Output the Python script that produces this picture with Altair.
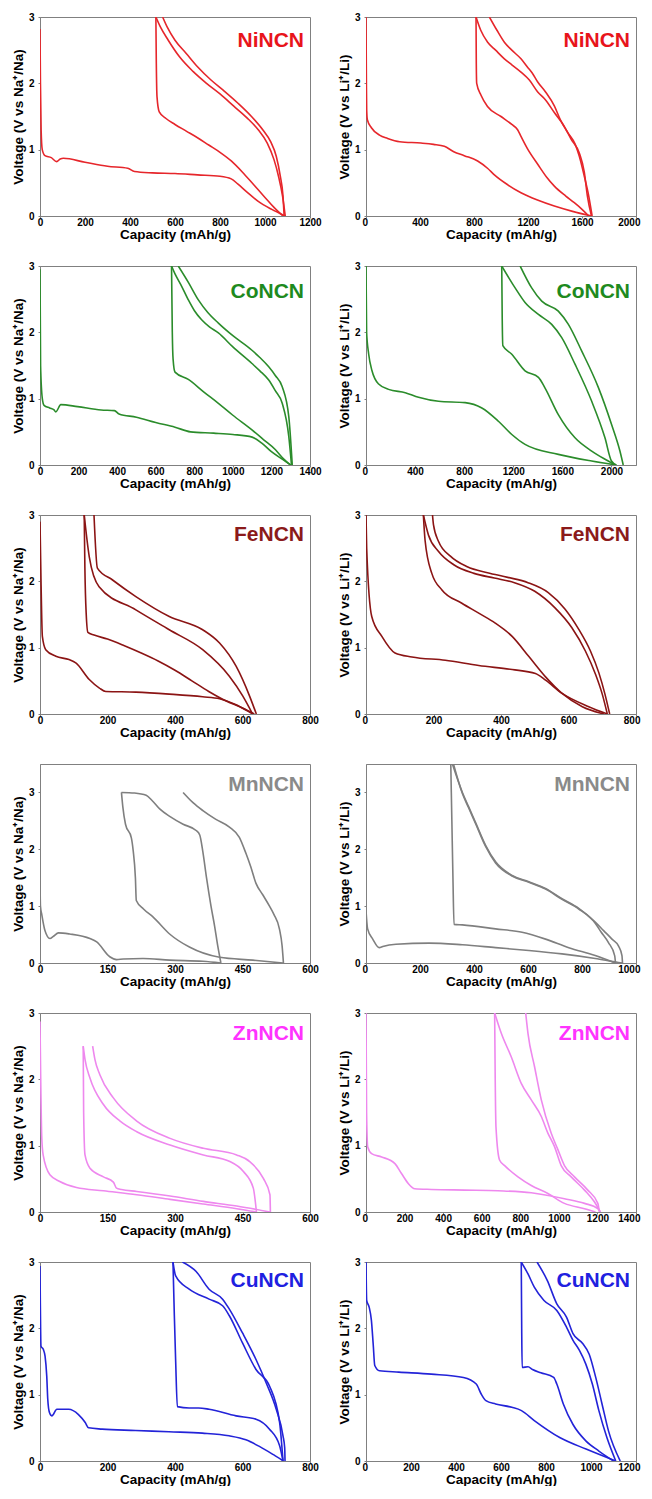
import altair as alt
import pandas as pd

FONT = "Liberation Sans"
W, H = 270, 199

# ---------------- NiNCN ----------------
NI_NA_D1 = [(0,2.82),(2,2.0),(5,1.3),(10,1.0),(22,0.91),(50,0.88),(74,0.82),(90,0.86),(104,0.87),(200,0.81),(300,0.75),(390,0.72),(420,0.67),(500,0.65),(600,0.64),(700,0.62),(800,0.6),(850,0.56),(880,0.48),(920,0.36),(970,0.22),(1030,0.1),(1090,0.0)]
NI_NA_C1 = [(1090,0.0),(1078,0.3),(1060,0.6),(1040,0.85),(1010,1.1),(970,1.3),(920,1.48),(860,1.66),(800,1.84),(740,2.0),(680,2.18),(620,2.4),(570,2.65),(535,2.85),(515,3.0)]
NI_NA_D2 = [(515,3.0),(517,2.3),(520,1.8),(530,1.57),(560,1.47),(600,1.38),(650,1.28),(700,1.18),(750,1.07),(800,0.96),(850,0.83),(900,0.66),(950,0.47),(1000,0.28),(1040,0.13),(1080,0.0)]
NI_NA_C2 = [(1085,0.0),(1080,0.3),(1068,0.6),(1050,0.9),(1025,1.12),(990,1.3),(940,1.5),(880,1.7),(820,1.88),(760,2.05),(700,2.25),(650,2.45),(600,2.65),(565,2.85),(545,3.0)]

NI_LI_D1 = [(0,3.0),(3,2.0),(5,1.6),(10,1.45),(40,1.33),(100,1.22),(160,1.17),(250,1.12),(407,1.1),(500,1.08),(580,1.05),(650,0.97),(728,0.91),(827,0.83),(900,0.72),(951,0.62),(1050,0.47),(1148,0.35),(1270,0.24),(1395,0.15),(1530,0.07),(1670,0.0)]
NI_LI_C1 = [(1670,0.0),(1640,0.3),(1617,0.66),(1580,0.95),(1519,1.16),(1460,1.38),(1395,1.56),(1330,1.75),(1272,1.87),(1210,2.05),(1148,2.17),(1080,2.28),(1025,2.37),(960,2.5),(901,2.62),(850,2.8),(815,3.0)]
NI_LI_D2 = [(815,3.0),(817,2.3),(820,2.0),(852,1.82),(900,1.65),(1000,1.5),(1080,1.38),(1123,1.3),(1148,1.2),(1200,1.0),(1272,0.78),(1340,0.58),(1395,0.45),(1480,0.3),(1543,0.2),(1600,0.1),(1650,0.0)]
NI_LI_C2 = [(1675,0.0),(1650,0.3),(1617,0.6),(1580,0.9),(1550,1.08),(1494,1.26),(1440,1.45),(1395,1.66),(1330,1.87),(1272,2.02),(1230,2.16),(1198,2.24),(1148,2.37),(1080,2.5),(1025,2.62),(970,2.8),(914,3.0)]

# ---------------- CoNCN ----------------
CO_NA_D1 = [(0,2.95),(3,1.5),(12,1.0),(21,0.9),(50,0.86),(73,0.83),(82,0.8),(108,0.91),(195,0.88),(317,0.83),(386,0.82),(410,0.77),(500,0.72),(600,0.64),(700,0.57),(780,0.5),(900,0.48),(1000,0.46),(1100,0.42),(1150,0.33),(1200,0.2),(1260,0.08),(1300,0.0)]
CO_NA_C1 = [(1304,0.0),(1290,0.43),(1256,0.93),(1220,1.12),(1186,1.28),(1140,1.42),(1099,1.53),(1000,1.78),(925,1.99),(880,2.08),(838,2.19),(800,2.33),(769,2.49),(730,2.72),(700,2.88),(682,3.0)]
CO_NA_D2 = [(682,3.0),(686,2.0),(690,1.6),(700,1.4),(769,1.29),(850,1.1),(925,0.93),(1000,0.75),(1099,0.53),(1160,0.38),(1221,0.23),(1260,0.1),(1299,0.0)]
CO_NA_C2 = [(1308,0.0),(1290,0.73),(1256,1.18),(1220,1.35),(1186,1.48),(1140,1.62),(1099,1.73),(1000,1.95),(925,2.14),(870,2.3),(821,2.49),(770,2.75),(717,3.0)]

CO_LI_D1 = [(0,3.0),(5,2.0),(22,1.67),(49,1.42),(103,1.22),(184,1.14),(320,1.09),(428,1.02),(591,0.96),(808,0.94),(944,0.86),(1079,0.66),(1188,0.46),(1296,0.31),(1567,0.16),(1839,0.06),(2040,0.0)]
CO_LI_C1 = [(2040,0.0),(2000,0.06),(1947,0.41),(1839,0.96),(1703,1.52),(1595,1.92),(1513,2.12),(1405,2.27),(1296,2.45),(1215,2.67),(1106,3.0)]
CO_LI_D2 = [(1106,3.0),(1110,2.2),(1115,1.8),(1188,1.67),(1296,1.42),(1405,1.32),(1459,1.16),(1567,0.76),(1703,0.41),(1839,0.21),(1974,0.06),(2030,0.0)]
CO_LI_C2 = [(2096,0.0),(2069,0.21),(2001,0.61),(1893,1.17),(1757,1.72),(1649,2.12),(1567,2.32),(1432,2.47),(1350,2.67),(1256,3.0)]

# ---------------- FeNCN ----------------
FE_NA_D1 = [(0,2.9),(3,2.0),(7,1.17),(17,0.97),(47,0.87),(86,0.82),(106,0.77),(146,0.52),(176,0.39),(195,0.34),(284,0.33),(383,0.3),(482,0.26),(532,0.23),(581,0.14),(610,0.06),(630,0.0)]
FE_NA_C1 = [(630,0.0),(601,0.27),(561,0.57),(482,0.97),(383,1.27),(284,1.57),(175,1.92),(146,2.37),(131,3.0)]
FE_NA_D2 = [(131,3.0),(133,2.2),(137,1.5),(142,1.23),(160,1.19),(200,1.13),(250,1.03),(300,0.92),(350,0.8),(400,0.66),(450,0.5),(500,0.34),(550,0.2),(600,0.09),(635,0.0)]
FE_NA_C2 = [(641,0.0),(621,0.27),(581,0.72),(532,1.07),(482,1.27),(383,1.47),(284,1.77),(215,2.02),(170,2.2),(160,3.0)]

FE_LI_D1 = [(0,3.0),(2,2.5),(17,1.47),(47,1.17),(86,0.92),(136,0.86),(235,0.81),(334,0.73),(433,0.67),(502,0.61),(532,0.51),(581,0.31),(660,0.11),(715,0.0)]
FE_LI_C1 = [(715,0.0),(700,0.3),(680,0.6),(650,0.95),(610,1.3),(560,1.6),(500,1.85),(440,1.98),(380,2.05),(320,2.12),(260,2.25),(215,2.45),(185,2.7),(170,3.0)]
FE_LI_D2 = [(170,3.0),(175,2.62),(195,2.12),(225,1.87),(284,1.67),(334,1.52),(383,1.37),(433,1.17),(482,0.87),(532,0.56),(581,0.31),(641,0.11),(705,0.0)]
FE_LI_C2 = [(722,0.0),(708,0.3),(690,0.62),(665,0.95),(630,1.28),(590,1.58),(540,1.83),(480,1.98),(420,2.06),(360,2.13),(300,2.22),(250,2.38),(215,2.6),(200,2.85),(197,3.0)]

# ---------------- MnNCN ----------------
MN_NA_D1 = [(0,1.45),(1,1.0),(4,0.85),(11,0.57),(22,0.43),(30,0.47),(41,0.53),(66,0.51),(111,0.43),(126,0.37),(155,0.11),(170,0.06),(185,0.07),(229,0.08),(288,0.05),(362,0.03),(402,0.0)]
MN_NA_C1 = [(402,0.0),(395,0.3),(388,0.65),(380,1.0),(370,1.5),(362,1.95),(355,2.25),(347,2.33),(318,2.44),(290,2.57),(266,2.71),(250,2.85),(236,2.95),(210,2.99),(181,3.0)]
MN_NA_D2 = [(181,3.0),(184,2.75),(190,2.44),(203,2.2),(207,1.98),(212,1.5),(214,1.1),(230,0.95),(251,0.81),(288,0.51),(332,0.28),(399,0.1),(473,0.05),(540,0.0)]
MN_NA_C2 = [(541,0.0),(538,0.3),(532,0.6),(520,0.85),(510,1.0),(495,1.2),(480,1.4),(468,1.7),(458,1.92),(443,2.21),(421,2.39),(390,2.53),(362,2.68),(340,2.82),(318,3.0)]

MN_LI_D1 = [(0,0.92),(6,0.6),(25,0.42),(49,0.27),(62,0.29),(111,0.33),(234,0.35),(357,0.32),(480,0.27),(603,0.22),(726,0.16),(849,0.08),(935,0.01),(950,0.0)]
MN_LI_C1 = [(950,0.0),(948,0.13),(935,0.3),(911,0.42),(880,0.57),(849,0.72),(788,0.96),(726,1.13),(665,1.31),(603,1.43),(541,1.54),(480,1.78),(443,2.07),(406,2.47),(380,2.75),(357,3.0),(320,3.5)]
MN_LI_D2 = [(314,3.5),(318,2.5),(322,1.5),(326,0.68),(357,0.67),(480,0.6),(578,0.54),(665,0.42),(751,0.27),(849,0.13),(923,0.0)]
MN_LI_C2 = [(924,0.0),(921,0.13),(898,0.36),(870,0.55),(849,0.7),(788,0.95),(726,1.12),(665,1.3),(603,1.42),(541,1.53),(480,1.76),(443,2.05),(406,2.45),(380,2.73),(357,2.98),(324,3.5)]

# ---------------- ZnNCN ----------------
ZN_NA_D1 = [(0,2.87),(4,1.11),(7,0.86),(22,0.56),(44,0.46),(81,0.37),(141,0.32),(215,0.26),(289,0.19),(363,0.12),(437,0.05),(481,0.0)]
ZN_NA_C1 = [(481,0.0),(474,0.36),(452,0.61),(422,0.76),(363,0.86),(289,1.01),(215,1.21),(178,1.37),(141,1.62),(111,2.02),(100,2.3),(96,2.5)]
ZN_NA_D2 = [(96,2.5),(97,1.5),(100,0.86),(111,0.66),(141,0.53),(163,0.45),(170,0.36),(181,0.34),(215,0.31),(289,0.24),(363,0.16),(437,0.09),(511,0.0)]
ZN_NA_C2 = [(512,0.0),(511,0.26),(496,0.51),(466,0.76),(437,0.86),(363,0.96),(289,1.11),(215,1.37),(163,1.72),(133,2.07),(122,2.3),(117,2.5)]

ZN_LI_D1 = [(0,3.0),(3,1.5),(9,0.98),(29,0.88),(81,0.83),(150,0.73),(184,0.58),(219,0.43),(253,0.35),(340,0.34),(512,0.33),(684,0.32),(857,0.29),(1029,0.2),(1133,0.13),(1202,0.05),(1215,0.0)]
ZN_LI_C1 = [(1215,0.0),(1185,0.15),(1133,0.33),(1064,0.53),(1012,0.7),(977,0.99),(943,1.19),(909,1.44),(857,1.69),(805,1.94),(753,2.34),(702,2.69),(667,3.0)]
ZN_LI_D2 = [(667,3.0),(670,2.0),(674,1.28),(693,0.78),(719,0.7),(788,0.53),(857,0.4),(943,0.28),(1029,0.13),(1133,0.05),(1190,0.0)]
ZN_LI_C2 = [(1210,0.0),(1202,0.13),(1150,0.33),(1081,0.53),(1029,0.7),(995,0.94),(960,1.19),(909,1.69),(874,2.19),(840,2.69),(828,3.0)]

# ---------------- CuNCN ----------------
CU_NA_D1 = [(0,2.94),(3,1.73),(10,1.68),(15,1.58),(20,1.28),(23,0.93),(28,0.73),(35,0.68),(50,0.78),(85,0.78),(114,0.7),(134,0.58),(144,0.5),(184,0.48),(283,0.46),(382,0.44),(481,0.42),(560,0.38),(610,0.32),(650,0.22),(690,0.1),(715,0.02),(720,0.0)]
CU_NA_C1 = [(720,0.0),(710,0.58),(680,1.13),(640,1.38),(600,1.78),(561,2.19),(541,2.34),(501,2.44),(442,2.59),(402,2.79),(394,3.0)]
CU_NA_D2 = [(394,3.0),(398,2.2),(402,1.5),(407,0.82),(442,0.8),(470,0.8),(501,0.78),(581,0.68),(640,0.63),(680,0.48),(710,0.23),(720,0.0)]
CU_NA_C2 = [(726,0.0),(725,0.2),(720,0.38),(700,0.78),(670,1.18),(640,1.53),(600,1.93),(561,2.29),(541,2.44),(501,2.59),(462,2.86),(422,3.0)]

CU_LI_D1 = [(0,3.0),(3,2.42),(14,2.32),(24,2.12),(32,1.76),(39,1.44),(60,1.36),(146,1.34),(290,1.31),(433,1.26),(490,1.16),(512,1.01),(533,0.91),(576,0.86),(648,0.81),(691,0.76),(748,0.61),(863,0.35),(978,0.18),(1110,0.0)]
CU_LI_C1 = [(1110,0.0),(1071,0.35),(1035,0.76),(1006,1.16),(977,1.46),(948,1.67),(920,1.82),(891,2.02),(848,2.27),(791,2.42),(748,2.62),(720,2.82),(690,3.0)]
CU_LI_D2 = [(690,3.0),(692,2.0),(694,1.41),(720,1.42),(740,1.38),(777,1.33),(834,1.26),(848,1.16),(877,0.86),(920,0.55),(978,0.3),(1035,0.15),(1100,0.0)]
CU_LI_C2 = [(1130,0.0),(1078,0.45),(1049,0.86),(1021,1.26),(992,1.61),(963,1.77),(920,1.92),(891,2.17),(848,2.37),(806,2.72),(760,3.0)]

PANELS = [
    # label, line colour, text colour, Na segs, Na xmax, Na step, Li segs, Li xmax, Li step, Li label max, ymax, text y
    ("NiNCN", "#e6262b", "#e8141b", [NI_NA_D1, NI_NA_C1, NI_NA_D2, NI_NA_C2], 1200, 200,
     [NI_LI_D1, NI_LI_C1, NI_LI_D2, NI_LI_C2], 2000, 400, 2000, 3.0, 30),
    ("CoNCN", "#2b8c2b", "#1e8a1e", [CO_NA_D1, CO_NA_C1, CO_NA_D2, CO_NA_C2], 1400, 200,
     [CO_LI_D1, CO_LI_C1, CO_LI_D2, CO_LI_C2], 2200, 400, 2000, 3.0, 32),
    ("FeNCN", "#8b1414", "#8b1a1a", [FE_NA_D1, FE_NA_C1, FE_NA_D2, FE_NA_C2], 800, 200,
     [FE_LI_D1, FE_LI_C1, FE_LI_D2, FE_LI_C2], 800, 200, 800, 3.0, 26),
    ("MnNCN", "#7f7f7f", "#8a8a8a", [MN_NA_D1, MN_NA_C1, MN_NA_D2, MN_NA_C2], 600, 150,
     [MN_LI_D1, MN_LI_C1, MN_LI_D2, MN_LI_C2], 1000, 200, 1000, 3.5, 27),
    ("ZnNCN", "#ee88ee", "#ff33ff", [ZN_NA_D1, ZN_NA_C1, ZN_NA_D2, ZN_NA_C2], 600, 150,
     [ZN_LI_D1, ZN_LI_C1, ZN_LI_D2, ZN_LI_C2], 1400, 200, 1400, 3.0, 27),
    ("CuNCN", "#2323d8", "#2020e0", [CU_NA_D1, CU_NA_C1, CU_NA_D2, CU_NA_C2], 800, 200,
     [CU_LI_D1, CU_LI_C1, CU_LI_D2, CU_LI_C2], 1200, 200, 1200, 3.0, 25),
]


def make_df(segs):
    rows = []
    for si, seg in enumerate(segs):
        for pi, (c, v) in enumerate(seg):
            rows.append({"cap": c, "volt": v, "seg": si, "idx": pi})
    return pd.DataFrame(rows)


def panel(segs, color, tcolor, label, xmax, xstep, xlabmax, ymax, ion, ty, flush):
    df = make_df(segs)
    xaxis_kw = dict(values=list(range(0, xlabmax + 1, xstep)),
                    title="Capacity (mAh/g)", format="d")
    if flush:
        xaxis_kw.update(labelFlush=True, labelFlushOffset=4)
    x = alt.X("cap:Q",
              scale=alt.Scale(domain=[0, xmax], nice=False, zero=True),
              axis=alt.Axis(**xaxis_kw))
    y = alt.Y("volt:Q",
              scale=alt.Scale(domain=[0, ymax], nice=False, zero=True),
              axis=alt.Axis(values=[0, 1, 2, 3], format="d",
                            title=f"Voltage (V vs {ion}\u207a/{ion})"))
    lines = alt.Chart(df).mark_line(color=color, strokeWidth=1.6, clip=True,
                                    interpolate="monotone").encode(
        x=x, y=y, detail="seg:N", order="idx:Q")
    txt = alt.Chart(pd.DataFrame({"t": [label]})).mark_text(
        font=FONT, fontWeight="bold", fontSize=21, color=tcolor,
        align="right", baseline="alphabetic").encode(
        text="t:N", x=alt.value(W - 6), y=alt.value(ty))
    return alt.layer(lines, txt).properties(width=W, height=H)


panels = []
for (label, lc, tc, na_segs, na_xmax, na_step, li_segs, li_xmax, li_step,
     li_labmax, ymax, ty) in PANELS:
    panels.append(panel(na_segs, lc, tc, label, na_xmax, na_step, na_xmax, ymax, "Na", ty, False))
    panels.append(panel(li_segs, lc, tc, label, li_xmax, li_step, li_labmax, ymax, "Li", ty, True))

chart = alt.concat(*panels, columns=2, spacing={"row": 50, "column": 56},
                   bounds="flush").properties(
    padding={"left": 2, "top": 3, "right": 0, "bottom": 0}
).configure_view(
    stroke="#808080", strokeWidth=1
).configure_axis(
    labelFont=FONT, labelFontWeight="bold", labelFontSize=10, labelColor="black",
    titleFont=FONT, titleFontWeight="bold", titleFontSize=13.5, titleColor="black",
    domainColor="#808080", tickColor="#808080", tickSize=2, grid=False,
    labelFlush=False
).configure_axisX(
    labelPadding=-1, titleY=22, titleBaseline="alphabetic"
).configure_axisY(
    labelPadding=4, titleX=-22, titleBaseline="middle"
)

chart.save("out.html", embed_options={"renderer": "svg", "actions": False})
